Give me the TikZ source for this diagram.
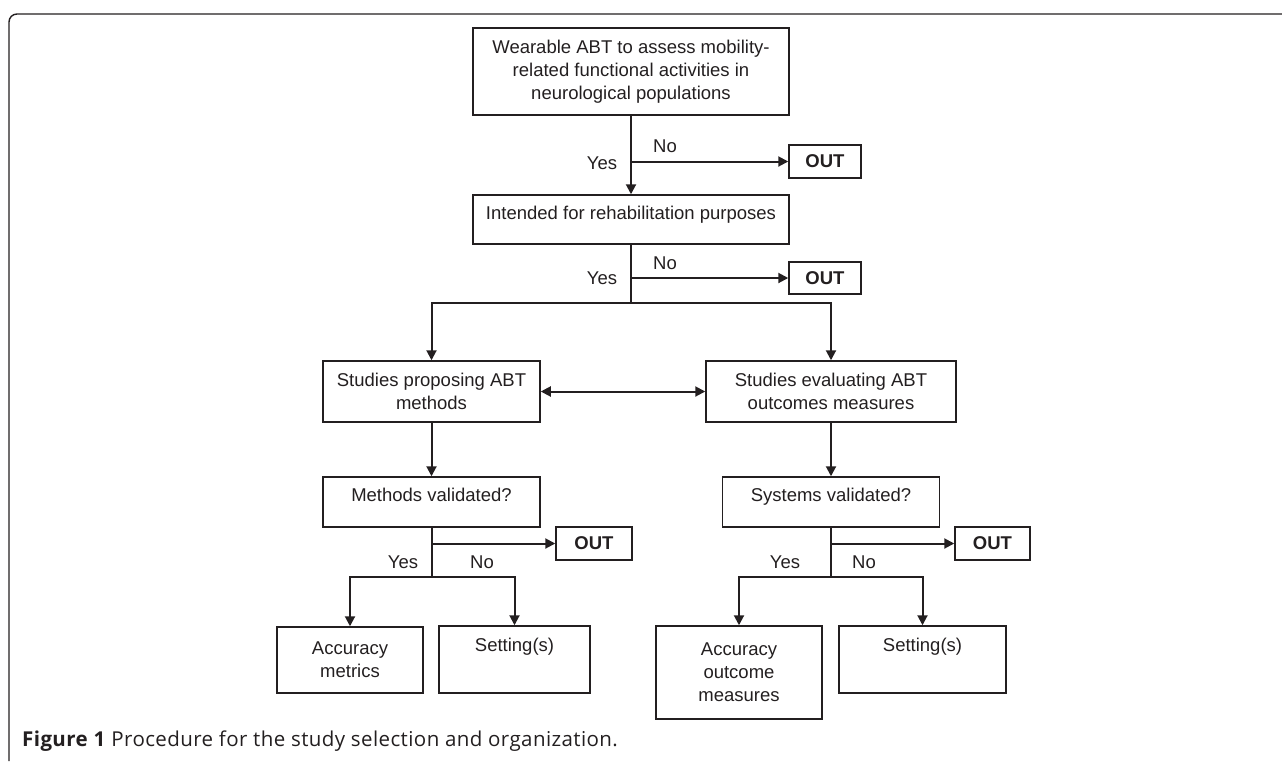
\documentclass[tikz,border=0pt]{standalone}
\usepackage{fontspec}
\setmainfont{Liberation Sans}
\newfontfamily\capfont[LetterSpace=2]{Open Sans}
\usepackage{tikz}
\usetikzlibrary{arrows.meta, positioning}
\definecolor{ink}{RGB}{35,31,32}

\begin{document}
\begin{tikzpicture}[x=1pt, y=-1pt,
    box/.style={draw=ink, line width=1.5pt, rectangle, inner sep=0pt, align=center,
                font=\fontsize{18.5}{23}\selectfont, text=ink},
    topbox/.style={box, inner ysep=0pt},
    outbox/.style={box, font=\fontsize{18.5}{20}\selectfont\bfseries},
    lbl/.style={font=\fontsize{18.5}{20}\selectfont, text=ink, inner sep=0pt},
    flow/.style={draw=ink, line width=2pt, -{Triangle[length=10pt, width=10pt]}},
    both/.style={draw=ink, line width=2pt, {Triangle[length=10pt, width=10pt]}-{Triangle[length=10pt, width=10pt]}},
    line/.style={draw=ink, line width=2pt}]
    \useasboundingbox (0,0) rectangle (1282,761);

    \draw[ink, line width=1.4pt, rounded corners=8pt] (9,761) -- (9,14) -- (1282,14);

    \node[box, minimum width=316pt, minimum height=87pt] (wear) at (631,71.5)
        {Wearable ABT to assess mobility-\\related functional activities in\\neurological populations};
    \node[topbox, minimum width=316pt, text height=24pt, text depth=25pt] (intended) at (631,219.5)
        {Intended for rehabilitation purposes};
    \node[outbox, minimum width=72pt, minimum height=33pt] (out1) at (825,161.5) {OUT};
    \node[outbox, minimum width=72pt, minimum height=32pt] (out2) at (825,278) {OUT};

    \node[box, minimum width=217pt, minimum height=61pt] (propose) at (431.5,391.5)
        {Studies proposing ABT\\methods};
    \node[box, minimum width=250pt, minimum height=61pt] (evaluate) at (831,391.5)
        {Studies evaluating ABT\\outcomes measures};

    \node[topbox, minimum width=217pt, text height=24pt, text depth=26pt] (mval) at (431.5,502)
        {Methods validated?};
    \node[topbox, minimum width=217pt, text height=24pt, text depth=26pt] (sval) at (831,502)
        {Systems validated?};
    \node[outbox, minimum width=76pt, minimum height=33pt] (out3) at (594,543.5) {OUT};
    \node[outbox, minimum width=75pt, minimum height=33pt] (out4) at (992.5,543.5) {OUT};

    \node[box, minimum width=146pt, minimum height=66pt] (accm) at (350,660)
        {Accuracy\\metrics};
    \node[topbox, minimum width=151pt, text height=25pt, text depth=42pt] (set1) at (514.5,659.5)
        {Setting(s)};
    \node[box, minimum width=166pt, minimum height=93pt] (acco) at (739,672.5)
        {Accuracy\\outcome\\measures};
    \node[topbox, minimum width=167pt, text height=25pt, text depth=42pt] (set2) at (922.5,659.5)
        {Setting(s)};

    \coordinate (j1) at (631,161.5);
    \coordinate (j2) at (631,278);
    \coordinate (j3) at (631,303);
    \coordinate (j4) at (431.5,543.5);
    \coordinate (j5) at (431.5,577);
    \coordinate (j6) at (831,543.5);
    \coordinate (j7) at (831,577);

    \node[lbl] (no1) at (665,146) {No};
    \node[lbl] (yes1) at (602,163) {Yes};
    \node[lbl] (no2) at (665,263) {No};
    \node[lbl] (yes2) at (602,278) {Yes};
    \node[lbl] (yes3) at (403,562) {Yes};
    \node[lbl] (no3) at (482,562) {No};
    \node[lbl] (yes4) at (785,562) {Yes};
    \node[lbl] (no4) at (864,562) {No};

    \draw[flow] (wear) -- (intended);
    \draw[flow] (j1) -- (out1);
    \draw[line] (intended) -- (j3);
    \draw[flow] (j2) -- (out2);
    \draw[both] (propose.north) |- (j3) -| (evaluate.north);
    \draw[both] (propose) -- (evaluate);

    \draw[flow] (propose) -- (mval);
    \draw[flow] (evaluate) -- (sval);

    \draw[line] (mval) -- (j5);
    \draw[flow] (j4) -- (out3);
    \draw[both] (accm.north) |- (j5) -| (set1.north);
    \draw[line] (sval) -- (j7);
    \draw[flow] (j6) -- (out4);
    \draw[both] (acco.north) |- (j7) -| (set2.north);

    \node[anchor=west, inner sep=0pt, text=ink, font=\capfont\fontsize{20.5}{24}\selectfont] (caption) at (22,741)
        {\textbf{Figure 1} Procedure for the study selection and organization.};
\end{tikzpicture}
\end{document}
